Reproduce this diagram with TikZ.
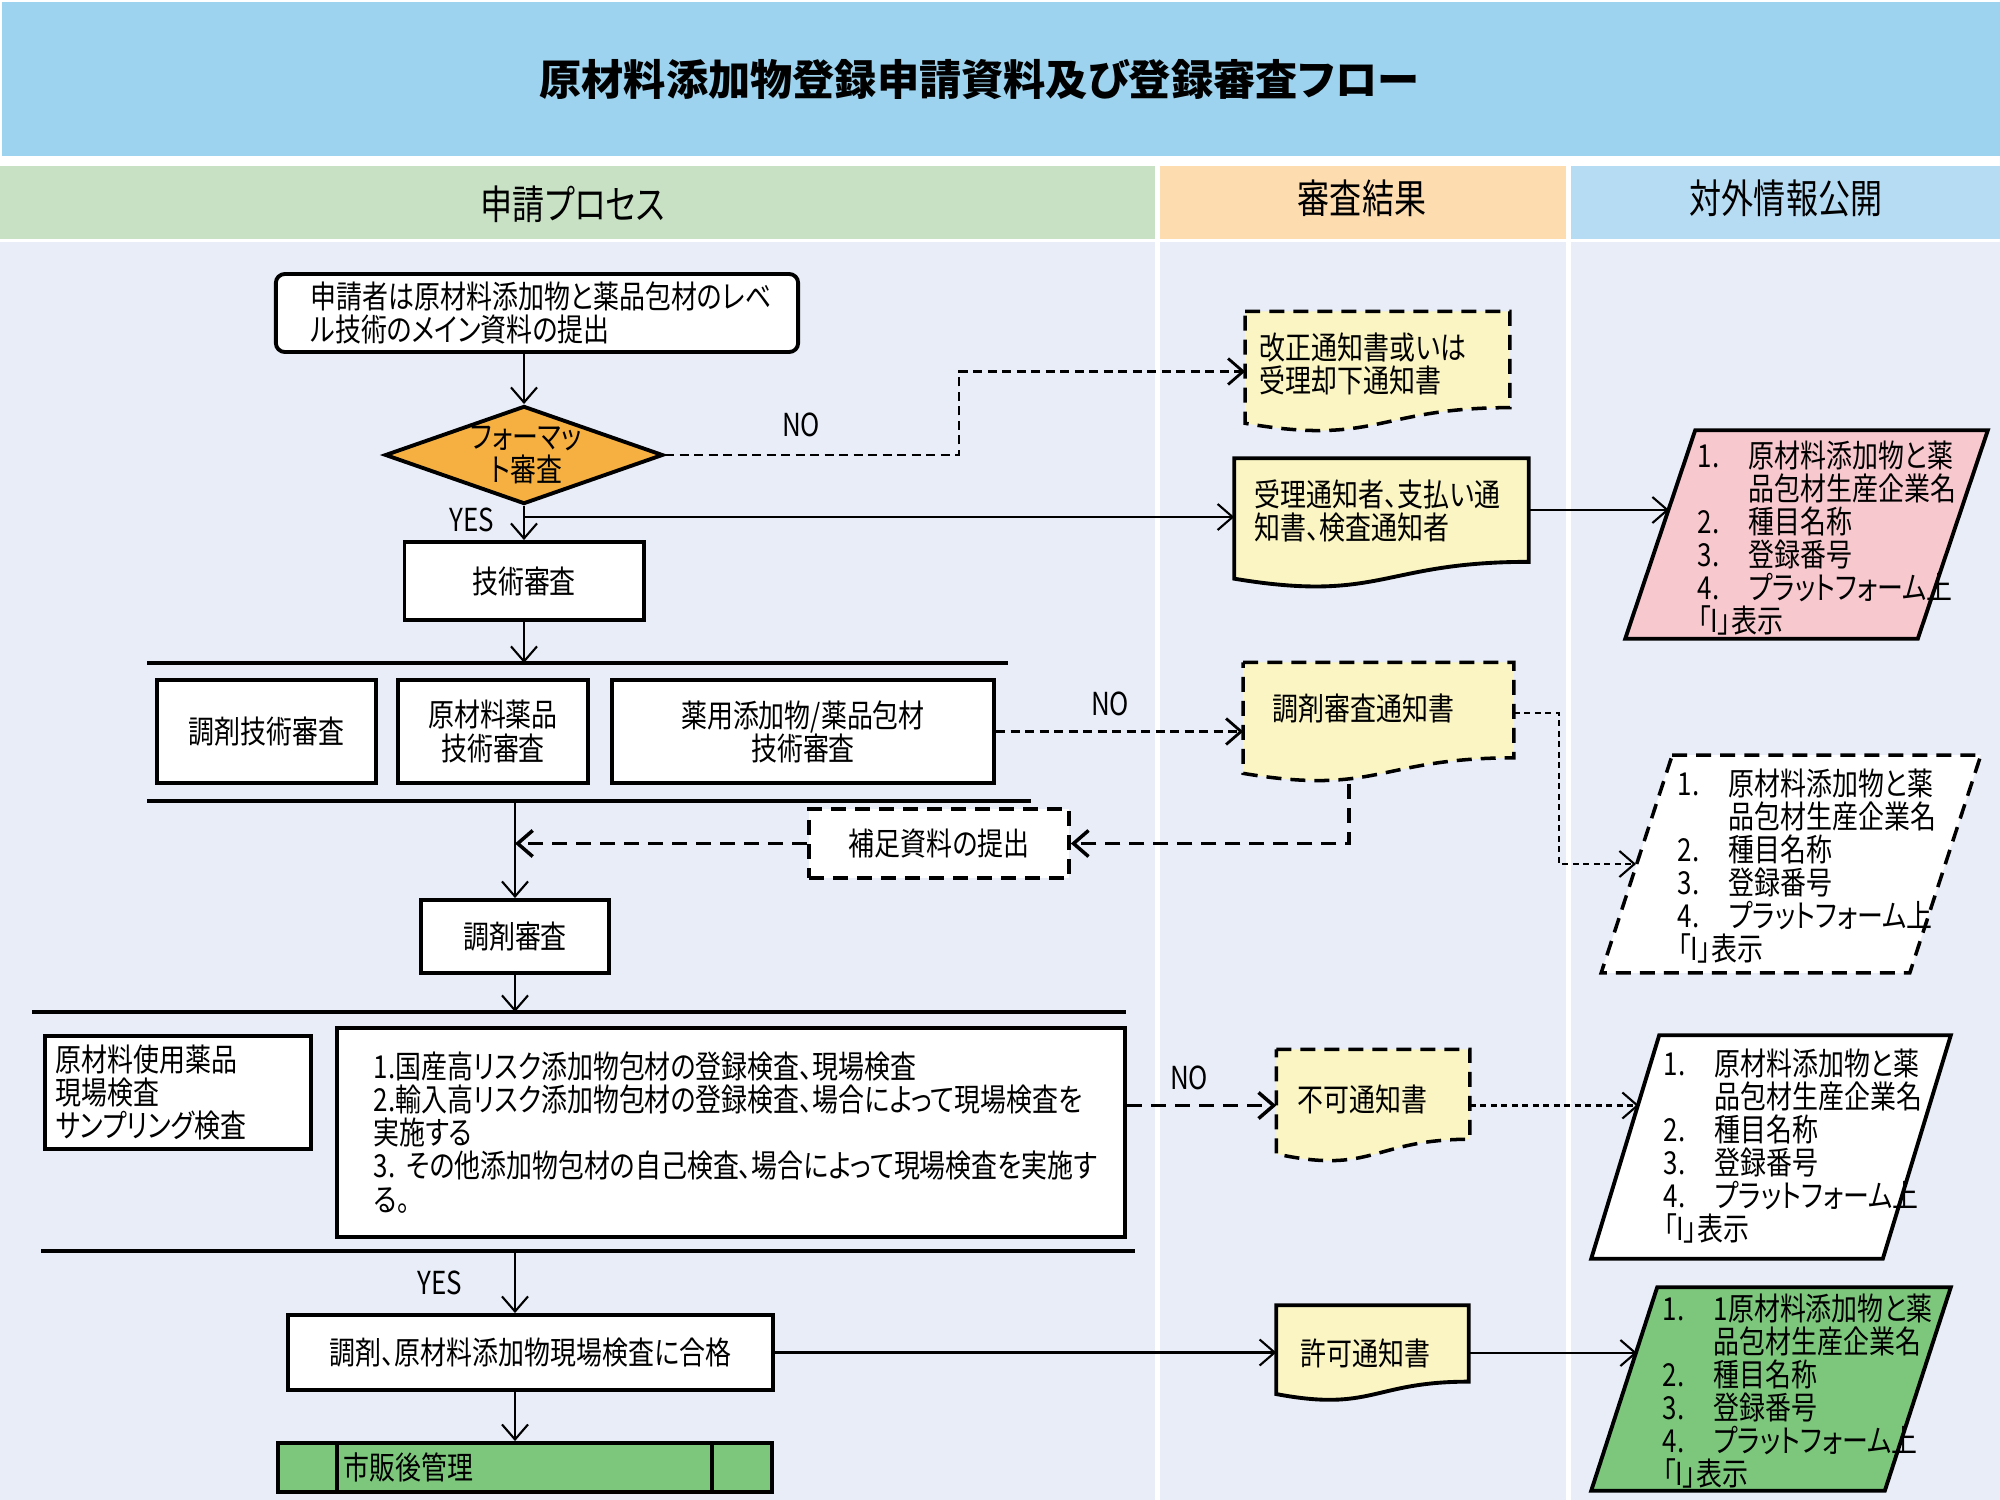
\documentclass[tikz,border=0pt]{standalone}
\usepackage{fontspec}
\setmainfont{Noto Sans CJK JP}[FakeStretch=0.82,RawFeature={+palt}]
\newfontfamily\ttlfont{Noto Sans CJK JP}[RawFeature={+palt}]
\newfontfamily\hdfont{Noto Sans CJK JP}[FakeStretch=0.8,RawFeature={+palt}]
\usetikzlibrary{shapes.geometric,arrows.meta,calc}
\pgfdeclarelayer{bg}
\pgfdeclarelayer{conn}
\pgfdeclarelayer{shp}
\pgfsetlayers{bg,conn,shp,main}
\definecolor{titlebg}{HTML}{9DD3EE}
\definecolor{hgreen}{HTML}{C8E0C4}
\definecolor{horange}{HTML}{FDDDB0}
\definecolor{hblue}{HTML}{B5DCF2}
\definecolor{bodybg}{HTML}{E8EDF8}
\definecolor{diafill}{HTML}{F5B041}
\definecolor{docfill}{HTML}{FAF5C2}
\definecolor{pinkfill}{HTML}{F8C8CF}
\definecolor{greenfill}{HTML}{7DC77D}
\newcommand{\docshape}[2]{\path[#2] (#1.north west) -- (#1.north east) -- ($(#1.north east)!0.80!(#1.south east)$) .. controls ($(#1.north)!0.80!(#1.south)$) and ($(#1.north)!1.12!(#1.south)$) .. ($(#1.north west)!0.93!(#1.south west)$) -- cycle;}
\newcommand{\paral}[3]{\path[#3] ($(#1.north west)+(#2,0)$) -- (#1.north east) -- ($(#1.south east)+(-#2,0)$) -- (#1.south west) -- cycle;}
\newcommand{\publist}[1]{\makebox[14.5pt][l]{1.}#1原材料添加物と薬\\\hspace*{14.5pt}品包材生産企業名\\\makebox[14.5pt][l]{2.}種目名称\\\makebox[14.5pt][l]{3.}登録番号\\\makebox[14.5pt][l]{4.}プラットフォーム上\\「I」表示}
\begin{document}
\begin{tikzpicture}[x=0.01cm,y=-0.01cm,
 every node/.style={font=\fontsize{9}{9.4}\selectfont, inner sep=0pt},
 box/.style={draw, line width=1.1pt, fill=white},
 docnode/.style={align=left, inner ysep=0pt},
 arr/.style={line width=0.6pt, -{Straight Barb[length=1.5mm,width=2.6mm]}},
 dashk/.style={line width=1pt, dash pattern=on 1.5mm off 0.9mm},
 dashn/.style={line width=0.8pt, dash pattern=on 0.9mm off 0.55mm},
 dasht/.style={line width=0.6pt, dash pattern=on 0.6mm off 0.45mm},
 bar/.style={line width=0.9pt},
 hdr/.style={font={\hdfont\fontsize{11.4}{13}\selectfont}}
]
\useasboundingbox (0,0) rectangle (2000,1500);
\begin{pgfonlayer}{bg}
\fill[white] (0,0) rectangle (2000,1500);
\fill[titlebg] (2,2) rectangle (2000,156);
\fill[hgreen] (0,166) rectangle (1155,239);
\fill[horange] (1160,166) rectangle (1566,239);
\fill[hblue] (1571,166) rectangle (2000,239);
\fill[bodybg] (0,242) rectangle (1155,1500);
\fill[bodybg] (1160,242) rectangle (1566,1500);
\fill[bodybg] (1571,242) rectangle (2000,1500);
\end{pgfonlayer}

% title and headers
\node[font={\ttlfont\bfseries\fontsize{12}{14}\selectfont}] (title) at (979,80) {原材料添加物登録申請資料及び登録審査フロー};
\node[hdr] (h1) at (573,204) {申請プロセス};
\node[hdr] (h2) at (1362,198) {審査結果};
\node[hdr] (h3) at (1786,198) {対外情報公開};

% process column
\node[box, rounded corners=0.9mm, minimum width=5.22cm, minimum height=0.78cm, text width=4.52cm, inner xsep=3.5mm, align=left] (start) at (537,313) {申請者は原材料添加物と薬品包材のレベ\\ル技術のメイン資料の提出};
\node[diamond, draw, line width=1.1pt, fill=diafill, aspect=2.84, minimum width=2.78cm, minimum height=0.98cm] (dia) at (524,455) {};
\node[align=center] (diat) at (526,455) {フォーマッ\\ト審査};
\node[box, minimum width=2.39cm, minimum height=0.78cm] (tech) at (524,581) {技術審査};

\coordinate (b1l) at (147,663); \coordinate (b1r) at (1008,663);
\coordinate (b2l) at (147,801); \coordinate (b2r) at (1031,801);
\coordinate (b3l) at (32,1012); \coordinate (b3r) at (1126,1012);
\coordinate (b4l) at (41,1251); \coordinate (b4r) at (1135,1251);

\node[box, minimum width=2.19cm, minimum height=1.03cm] (r1) at (266.5,731.5) {調剤技術審査};
\node[box, minimum width=1.90cm, minimum height=1.03cm, align=center] (r2) at (493,731.5) {原材料薬品\\技術審査};
\node[box, minimum width=3.82cm, minimum height=1.03cm, align=center] (r3) at (803,731.5) {薬用添加物/薬品包材\\技術審査};

\node[box, dashk, minimum width=2.60cm, minimum height=0.69cm] (sup) at (939,843.5) {補足資料の提出};
\node[box, minimum width=1.88cm, minimum height=0.73cm] (chozai) at (515,936.5) {調剤審査};

\node[box, minimum width=2.66cm, minimum height=1.13cm, text width=2.44cm, inner xsep=1.1mm, align=left] (raw) at (178,1092.5) {原材料使用薬品\\現場検査\\サンプリング検査};
\node[box, minimum width=7.88cm, minimum height=2.09cm, text width=7.14cm, inner xsep=3.7mm, align=left] (big) at (731,1132.5) {1.国産高リスク添加物包材の登録検査、現場検査\\2.輸入高リスク添加物包材の登録検査、場合によって現場検査を\\実施する\\3.~その他添加物包材の自己検査、場合によって現場検査を実施す\\る。};

\node[box, minimum width=4.85cm, minimum height=0.75cm] (pass) at (530.5,1352.5) {調剤、原材料添加物現場検査に合格};
\node[box, fill=greenfill, minimum width=4.94cm, minimum height=0.49cm, text width=3.62cm, inner xsep=6.6mm, align=left] (post) at (525,1467.5) {市販後管理};
\draw[line width=1.1pt] ($(post.north west)+(61,0)$) -- ($(post.south west)+(61,0)$);
\draw[line width=1.1pt] ($(post.north east)+(-62,0)$) -- ($(post.south east)+(-62,0)$);

% result column documents
\node[docnode, minimum width=2.63cm, minimum height=1.19cm, text width=2.35cm, inner xsep=1.4mm, text depth=14.3pt] (d1) at (1377.5,371.5) {改正通知書或いは\\受理却下通知書};
\node[docnode, minimum width=2.93cm, minimum height=1.28cm, text width=2.53cm, inner xsep=2mm, text depth=17.2pt] (d2) at (1381.5,523) {受理通知者、支払い通\\知書、検査通知者};
\node[docnode, minimum width=2.69cm, minimum height=1.18cm, text width=2.11cm, inner xsep=2.9mm, text depth=8.5pt] (d3) at (1378.5,722) {調剤審査通知書};
\node[docnode, minimum width=1.92cm, minimum height=1.11cm, text width=1.50cm, inner xsep=2.1mm, text depth=4.3pt] (d4) at (1373,1105.5) {不可通知書};
\node[docnode, minimum width=1.91cm, minimum height=0.94cm, text width=1.43cm, inner xsep=2.4mm] (d5) at (1372.5,1353) {許可通知書};

% publication column (parallelogram frames)
\node[minimum width=3.61cm, minimum height=2.07cm] (p1) at (1806.5,534.5) {};
\node[minimum width=3.78cm, minimum height=2.16cm] (p2) at (1791,864) {};
\node[minimum width=3.58cm, minimum height=2.22cm] (p3) at (1771,1147) {};
\node[minimum width=3.58cm, minimum height=2.02cm] (p4) at (1771,1389) {};

\begin{pgfonlayer}{shp}
\docshape{d1}{fill=docfill, draw, line width=1.1pt, dashk}
\docshape{d2}{fill=docfill, draw, line width=1.1pt}
\docshape{d3}{fill=docfill, draw, line width=1.1pt, dashk}
\docshape{d4}{fill=docfill, draw, line width=1.1pt, dashk}
\docshape{d5}{fill=docfill, draw, line width=1.1pt}
\paral{p1}{70}{fill=pinkfill, draw, line width=1.1pt}
\paral{p2}{71}{fill=white, draw, line width=1.1pt, dashk}
\paral{p3}{68}{fill=white, draw, line width=1.1pt}
\paral{p4}{66}{fill=greenfill, draw, line width=1.1pt}
\end{pgfonlayer}

\node[anchor=west, align=left] (p1t) at (1697,538) {\publist{}};
\node[anchor=west, align=left] (p2t) at (1677,866) {\publist{}};
\node[anchor=west, align=left] (p3t) at (1663,1146) {\publist{}};
\node[anchor=west, align=left] (p4t) at (1662,1391) {\publist{1}};

% labels
\node (no1) at (801,425) {NO};
\node (no2) at (1110,704) {NO};
\node (no3) at (1189,1078) {NO};
\node (yes1) at (472,520) {YES};
\node (yes2) at (440,1283) {YES};

\coordinate (yesj) at (524,517);
\coordinate (jog1) at (959,455);
\coordinate (jog2) at (1559,864);
\coordinate (d3b) at (1349,760);
\coordinate (p1in) at (1669,510);
\coordinate (p2in) at (1636,864);
\coordinate (p3in) at (1639,1105.5);
\coordinate (p4in) at (1637,1353);

\begin{pgfonlayer}{conn}
\draw[bar] (b1l) -- (b1r);
\draw[bar] (b2l) -- (b2r);
\draw[bar] (b3l) -- (b3r);
\draw[bar] (b4l) -- (b4r);
\draw[arr] (start.south -| dia.north) -- (dia.north);
\draw[arr] (dia.south) -- (dia.south |- tech.north);
\draw[arr] (yesj) -- (yesj -| d2.west);
\draw[arr, dashn] (dia.east) -- (jog1) |- (d1.west);
\draw[arr] (tech.south) -- (tech.south |- b1l);
\draw[arr] (p1in -| d2.east) -- (p1in);
\draw[arr, dashn] (r3.east) -- (r3.east -| d3.west);
\draw[arr, dasht] ($(d3.east)+(0,-9)$) -| (jog2) -- (p2in);
\draw[arr, dashk] (d3b) |- (sup.east);
\draw[arr, dashk] (sup.west) -- (sup.west -| chozai.north);
\draw[arr] (chozai.north |- b2l) -- (chozai.north);
\draw[arr] (chozai.south) -- (chozai.south |- b3l);
\draw[arr, dashk] (big.east |- d4.west) -- (d4.west);
\draw[arr, dasht] (d4.east) -- (p3in);
\draw[arr] (chozai.south |- b4l) -- (chozai.south |- pass.north);
\draw[arr] (pass.east) -- (pass.east -| d5.west);
\draw[arr] (d5.east) -- (p4in);
\draw[arr] (chozai.south |- pass.south) -- (chozai.south |- post.north);
\end{pgfonlayer}
\end{tikzpicture}
\end{document}
